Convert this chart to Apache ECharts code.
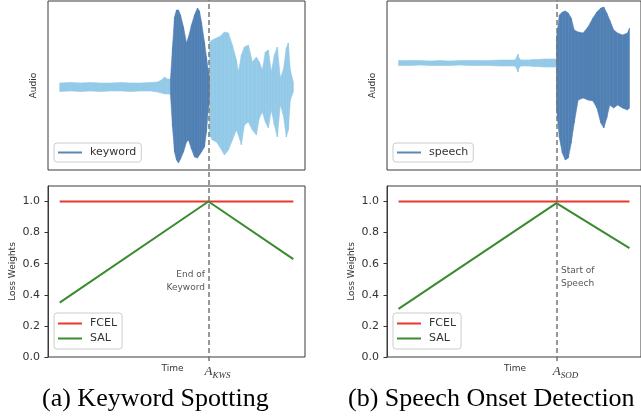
<!DOCTYPE html>
<html><head><meta charset="utf-8">
<script src="https://cdn.jsdelivr.net/npm/echarts@6/dist/echarts.min.js"></script>
<style>html,body{margin:0;padding:0;background:#fff}#c{width:641px;height:417px}</style>
</head><body><div id="c"></div><script>
// ---------- data (time in arbitrary frame units, amplitude in arbitrary units) ----------
// Keyword spotting audio
const kwsPreT  = [0, 11, 21, 31, 41, 51, 61, 71, 81, 91, 98, 102, 105, 108, 111];
const kwsPreHi = [4, 4.5, 4, 4.5, 4, 4, 4.5, 4, 4, 4.5, 5, 7, 10, 8, 8];
const kwsPreLo = [4.5, 4, 4.5, 4, 4.5, 4, 4, 4.5, 4, 4, 5, 6, 7, 7, 7];
const kwsKeyT  = [111, 113, 115, 117, 119, 121, 124, 127, 129, 132, 135, 138, 140, 142, 145, 147, 149, 150];
const kwsKeyHi = [8, 40, 70, 77, 77, 72, 60, 44, 50, 62, 72, 79, 76, 65, 45, 30, 15, 10];
const kwsKeyLo = [8, 40, 65, 73, 76, 72, 65, 55, 53, 62, 70, 71, 68, 65, 60, 45, 20, 10];
const kwsPostT  = [150, 153, 157, 161, 165, 169, 173, 177, 179, 182, 185, 189, 193, 197, 200, 203, 206, 209, 212, 215, 218, 221, 224, 227, 229, 231, 234];
const kwsPostHi = [45, 47, 49, 51, 55, 54, 42, 27, 15, 32, 40, 42, 25, 30, 25, 17, 35, 37, 15, 32, 40, 9, 17, 39, 44, 17, 5];
const kwsPostLo = [48, 53, 55, 61, 68, 63, 53, 43, 48, 58, 38, 35, 43, 48, 31, 25, 35, 41, 23, 38, 50, 18, 28, 50, 43, 13, 5];
// Speech onset audio
const sodPreT  = [0, 12, 22, 32, 42, 52, 62, 72, 82, 92, 102, 112, 118, 120, 121, 122, 124, 128, 132, 137, 142, 147, 152, 157, 160];
const sodPreHi = [2.5, 2.5, 2.5, 2, 2.5, 2, 2.5, 2.5, 2.5, 2.5, 3, 3, 3, 6, 9, 5, 3, 3, 3, 3.5, 3.5, 4, 4, 4, 4];
const sodPreLo = [2.5, 2.5, 2, 2.5, 2.5, 2.5, 2, 2.5, 2.5, 2.5, 3, 3, 3, 6, 9, 5, 3, 3, 3, 3.5, 3.5, 4, 4, 4, 4];
const sodSpT  = [160, 163, 166, 169, 172, 175, 178, 182, 187, 192, 197, 201, 205, 208, 211, 214, 218, 222, 227, 232, 234];
const sodSpHi = [25, 48, 51, 52, 50, 45, 33, 31, 30, 36, 45, 51, 55, 56, 50, 43, 33, 30, 28, 30, 35];
const sodSpLo = [45, 75, 90, 97, 95, 80, 60, 37, 35, 37, 38, 45, 60, 65, 55, 42, 45, 42, 45, 47, 45];
// Loss weights
const kwsLossT = [0, 149, 234];
const kwsFCEL  = [1.0, 1.0, 1.0];
const kwsSAL   = [0.35, 1.0, 0.63];
const sodLossT = [0, 160, 234];
const sodFCEL  = [1.0, 1.0, 1.0];
const sodSAL   = [0.31, 0.99, 0.70];
const kwsPeakT = 149, sodPeakT = 160;
const kwsTimeLabelT = 113, sodTimeLabelT = 118;
const yTicks = [0, 0.2, 0.4, 0.6, 0.8, 1.0];

// ---------- styles ----------
const FONT = 'DejaVu Sans';
const LIGHT = '#93cae8', DARK = '#5080b4', RED = '#e8392c', GREEN = '#3a8a2f';
const T_MIN = -11.7, T_MAX = 245.7;

const chart = echarts.init(document.getElementById('c'), null, {renderer: 'canvas'});

function band(name, t, hi, lo, color, gi) {
  const data = t.slice(0, -1).map((x, i) => [x, hi[i], -lo[i], t[i + 1], hi[i + 1], -lo[i + 1]]);
  return {
    name, type: 'custom', xAxisIndex: gi, yAxisIndex: gi, silent: true,
    itemStyle: {color},
    encode: {x: [0, 3], y: [1, 2, 4, 5]},
    data,
    renderItem: (params, api) => {
      const a = api.coord([api.value(0), api.value(1)]);
      const b = api.coord([api.value(3), api.value(4)]);
      const c = api.coord([api.value(3), api.value(5)]);
      const d = api.coord([api.value(0), api.value(2)]);
      return {type: 'polygon', shape: {points: [a, b, c, d]},
        style: {fill: color, stroke: color, lineWidth: 0.6}};
    }
  };
}
function lossLine(name, t, v, color, gi, mp) {
  const s = {name, type: 'line', xAxisIndex: gi, yAxisIndex: gi, symbol: 'none', silent: true,
    color, lineStyle: {color, width: 2}, data: t.map((x, i) => [x, v[i]])};
  if (mp) s.markPoint = mp;
  return s;
}
function dash(gi, peak) {
  return {type: 'line', xAxisIndex: gi, yAxisIndex: gi, symbol: 'none', silent: true,
    lineStyle: {opacity: 0}, data: [[peak, 0.5]], z: 10,
    markLine: {symbol: 'none', silent: true, label: {show: false},
      lineStyle: {type: [5, 3], color: '#777', width: 1.5}, data: [{xAxis: peak}]}};
}
function hiddenX(gi) {
  return {type: 'value', gridIndex: gi, min: T_MIN, max: T_MAX, show: gi < 4,
    axisLine: {show: false, onZero: false}, axisTick: {show: false}, axisLabel: {show: false}, splitLine: {show: false}};
}
function lossX(gi, timeT, peakT, sub) {
  return {type: 'value', gridIndex: gi, min: T_MIN, max: T_MAX,
    axisLine: {show: false, onZero: false}, axisTick: {show: false}, splitLine: {show: false},
    axisLabel: {show: true, customValues: [timeT, peakT], margin: 7,
      formatter: v => v === peakT ? '{p|}{a|A}{s|' + sub + '}' : '{t|Time}',
      rich: {
        p: {width: 18},
        a: {fontFamily: 'Liberation Serif', fontStyle: 'italic', fontSize: 13, color: '#333'},
        s: {fontFamily: 'Liberation Serif', fontStyle: 'italic', fontSize: 9, color: '#333', padding: [7, 0, 0, 0]},
        t: {fontFamily: FONT, fontSize: 9, color: '#333'}
      }}};
}
function audioY(gi, min, max) {
  return {type: 'value', gridIndex: gi, min, max, name: 'Audio', nameLocation: 'middle', nameGap: 10,
    nameTextStyle: {fontFamily: FONT, fontSize: 9, color: '#333'},
    axisLine: {show: false, onZero: false}, axisTick: {show: false}, axisLabel: {show: false}, splitLine: {show: false}};
}
function lossY(gi) {
  return {type: 'value', gridIndex: gi, min: 0, max: 1.1, name: 'Loss Weights', nameLocation: 'middle', nameGap: 31,
    nameTextStyle: {fontFamily: FONT, fontSize: 9, color: '#333'},
    axisLine: {show: true, onZero: false, lineStyle: {color: '#3a3a3a', width: 1}}, splitLine: {show: false},
    axisTick: {show: true, length: 3.5, customValues: yTicks, lineStyle: {color: '#333', width: 1}},
    axisLabel: {show: true, customValues: yTicks, margin: 8, formatter: v => v.toFixed(1),
      fontFamily: FONT, fontSize: 11, color: '#333'}};
}
function overlayY(gi) {
  return {type: 'value', gridIndex: gi, min: 0, max: 1, show: false, axisLine: {onZero: false}};
}
const legendBase = {
  orient: 'vertical', selectedMode: false, borderColor: '#ccc', borderWidth: 1, borderRadius: 3,
  backgroundColor: 'rgba(255,255,255,0.85)', icon: 'rect', itemWidth: 24, itemHeight: 2, itemGap: 4,
  textStyle: {fontFamily: FONT, fontSize: 11, color: '#333', padding: [0, 0, 0, 3]}
};
const frame = {show: true, borderColor: '#3a3a3a', borderWidth: 1, backgroundColor: 'transparent'};
const annot = (coord, text, pos, dist) => ({symbol: 'circle', symbolSize: 1, silent: true,
  itemStyle: {color: 'rgba(0,0,0,0)'},
  label: {show: true, formatter: text, position: pos, distance: dist,
    fontFamily: FONT, fontSize: 9, lineHeight: 13, color: '#555'},
  data: [{coord}]});

chart.setOption({
  animation: false,
  grid: [
    Object.assign({left: 48, top: 1, width: 257, height: 169}, frame),
    Object.assign({left: 48, top: 186, width: 257, height: 171}, frame),
    Object.assign({left: 387, top: 1, width: 257, height: 169}, frame),
    Object.assign({left: 387, top: 186, width: 257, height: 171}, frame),
    {left: 48, top: 0, width: 257, height: 361, show: false},
    {left: 387, top: 0, width: 257, height: 361, show: false}
  ],
  xAxis: [hiddenX(0), lossX(1, kwsTimeLabelT, kwsPeakT, 'KWS'), hiddenX(2), lossX(3, sodTimeLabelT, sodPeakT, 'SOD'), hiddenX(4), hiddenX(5)],
  yAxis: [audioY(0, -83, 86), lossY(1), audioY(2, -107, 62), lossY(3), overlayY(4), overlayY(5)],
  legend: [
    Object.assign({}, legendBase, {left: 54, top: 143, padding: [4, 5, 4, 4], data: [{name: 'keyword', itemStyle: {color: '#5a86b8'}}]}),
    Object.assign({}, legendBase, {left: 393, top: 143, padding: [4, 5, 4, 4], data: [{name: 'speech', itemStyle: {color: '#5a86b8'}}]}),
    Object.assign({}, legendBase, {left: 54, top: 313, padding: [5, 5, 5, 4], data: ['FCEL', 'SAL']}),
    Object.assign({}, legendBase, {left: 393, top: 313, padding: [5, 5, 5, 4], data: ['FCEL', 'SAL']})
  ],
  graphic: [
    {type: 'text', left: 42, top: 386, style: {text: '(a) Keyword Spotting', font: '26px "Liberation Serif"', fill: '#000'}},
    {type: 'text', left: 348, top: 386, style: {text: '(b) Speech Onset Detection', font: '26px "Liberation Serif"', fill: '#000'}}
  ],
  series: [
    band('kwsPre', kwsPreT, kwsPreHi, kwsPreLo, LIGHT, 0),
    band('kwsPost', kwsPostT, kwsPostHi, kwsPostLo, LIGHT, 0),
    band('keyword', kwsKeyT, kwsKeyHi, kwsKeyLo, DARK, 0),
    band('sodPre', sodPreT, sodPreHi, sodPreLo, LIGHT, 2),
    band('speech', sodSpT, sodSpHi, sodSpLo, DARK, 2),
    lossLine('FCEL', kwsLossT, kwsFCEL, RED, 1),
    lossLine('SAL', kwsLossT, kwsSAL, GREEN, 1, annot([kwsPeakT, 0.49], 'End of\nKeyword', 'left', 3)),
    lossLine('FCEL', sodLossT, sodFCEL, RED, 3),
    lossLine('SAL', sodLossT, sodSAL, GREEN, 3, annot([sodPeakT, 0.515], 'Start of\nSpeech', 'right', 4)),
    dash(4, kwsPeakT),
    dash(5, sodPeakT)
  ]
});
</script></body></html>
